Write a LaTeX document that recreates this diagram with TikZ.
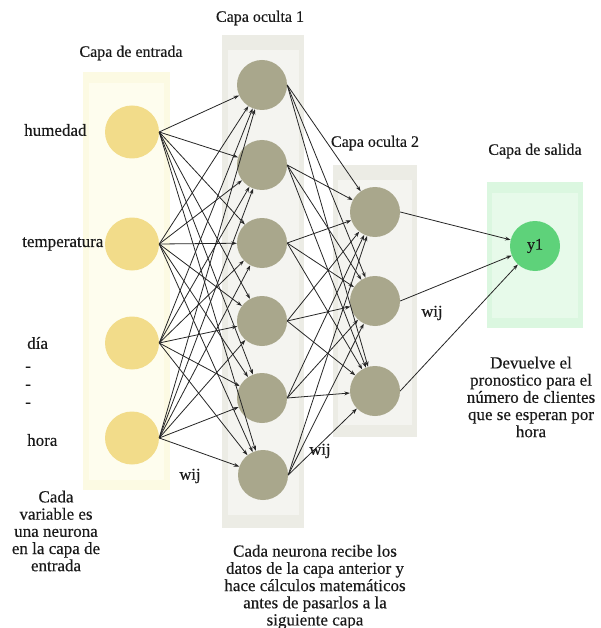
\documentclass[tikz,border=0pt]{standalone}
\usepackage{fontspec}
\setmainfont{Liberation Serif}[FakeBold=0.3]
\usetikzlibrary{arrows.meta,shapes.geometric}

\definecolor{inYellow}{HTML}{F2DC8A}
\definecolor{inPanelOut}{HTML}{FCFAE3}
\definecolor{inPanelIn}{HTML}{FEFDEE}
\definecolor{hidOlive}{HTML}{A9A78C}
\definecolor{hidPanelOut}{HTML}{ECECE5}
\definecolor{hidPanelIn}{HTML}{F4F4F0}
\definecolor{outGreen}{HTML}{5ED27A}
\definecolor{outPanelOut}{HTML}{DBF7E0}
\definecolor{outPanelIn}{HTML}{E7FAEA}
\definecolor{wire}{HTML}{262626}
\definecolor{ink}{HTML}{1A1A1A}

\tikzset{
  inneuron/.style={ellipse, fill=inYellow, minimum width=54pt, minimum height=53pt, inner sep=0pt},
  hidneuron/.style={circle, fill=hidOlive, minimum size=50pt, inner sep=0pt},
  outneuron/.style={circle, fill=outGreen, minimum size=50pt, inner sep=0pt, text=ink, font=\fontsize{16}{17}\selectfont},
  conn/.style={draw=wire, line width=0.8pt, -{Stealth[length=5.5pt,width=3.8pt]}},
  heading/.style={text=ink, font=\fontsize{16}{17}\selectfont, inner sep=0pt},
  varlabel/.style={text=ink, font=\fontsize{17}{18}\selectfont, anchor=west, inner sep=0pt},
  note/.style={text=ink, font=\fontsize{17}{17.2}\selectfont, align=center, inner sep=0pt},
  weight/.style={text=ink, font=\fontsize{16.5}{17}\selectfont, inner sep=0pt},
}

\begin{document}
\begin{tikzpicture}[x=1pt,y=-1pt]
\useasboundingbox[fill=white] (0,0) rectangle (600,628);

% layer panels
\fill[inPanelOut] (83,72) rectangle (170,490);
\fill[inPanelIn] (89,83) rectangle (164,480);
\fill[hidPanelOut] (222,35) rectangle (304,528);
\fill[hidPanelIn] (228,50) rectangle (299,515);
\fill[hidPanelOut] (333,165) rectangle (417,437);
\fill[hidPanelIn] (338,180) rectangle (412,425);
\fill[outPanelOut] (487,182) rectangle (583,328);
\fill[outPanelIn] (492,193) rectangle (578,318);

% input layer
\node[inneuron] (i1) at (132,132) {};
\node[inneuron] (i2) at (132,244) {};
\node[inneuron] (i3) at (132,343) {};
\node[inneuron] (i4) at (132,438) {};

% first hidden layer
\node[hidneuron] (h1) at (262,85) {};
\node[hidneuron] (h2) at (262,165) {};
\node[hidneuron] (h3) at (262,243) {};
\node[hidneuron] (h4) at (262,321) {};
\node[hidneuron] (h5) at (262,398) {};
\node[hidneuron] (h6) at (263,475) {};

% second hidden layer
\node[hidneuron] (g1) at (375,212) {};
\node[hidneuron] (g2) at (375,301) {};
\node[hidneuron] (g3) at (375,391) {};

% output layer
\node[outneuron] (y) at (535,246) {y1};

% connections
\foreach \a in {1,...,4}
  \foreach \b in {1,...,6}
    \draw[conn] (i\a.east) -- (h\b);
\foreach \a in {1,...,6}
  \foreach \b in {1,...,3}
    \draw[conn] (h\a.east) -- (g\b);
\foreach \a in {1,...,3}
  \draw[conn] (g\a.east) -- (y);

% layer titles
\node[heading] (tin) at (131,53) {Capa de entrada};
\node[heading] (th1) at (260,18) {Capa oculta 1};
\node[heading] (th2) at (375,143) {Capa oculta 2};
\node[heading] (tout) at (535,151) {Capa de salida};

% input variables
\node[varlabel] (v1) at (24,130) {humedad};
\node[varlabel] (v2) at (22,244) {temperatura};
\node[varlabel] (v3) at (27,343) {día};
\node[varlabel] (d1) at (25,369) {-};
\node[varlabel] (d2) at (25,387) {-};
\node[varlabel] (d3) at (25,405) {-};
\node[varlabel] (v4) at (27,440) {hora};

% weights
\node[weight] (w1) at (190,476) {wij};
\node[weight] (w2) at (320,451) {wij};
\node[weight] (w3) at (432,313) {wij};

% notes
\node[note] (n1) at (56,531) {Cada\\variable es\\una neurona\\en la capa de\\entrada};
\node[note] (n2) at (315,587) {Cada neurona recibe los\\datos de la capa anterior y\\hace cálculos matemáticos\\antes de pasarlos a la\\siguiente capa};
\node[note] (n3) at (531,397) {Devuelve el\\pronostico para el\\número de clientes\\que se esperan por\\hora};
\end{tikzpicture}
\end{document}
